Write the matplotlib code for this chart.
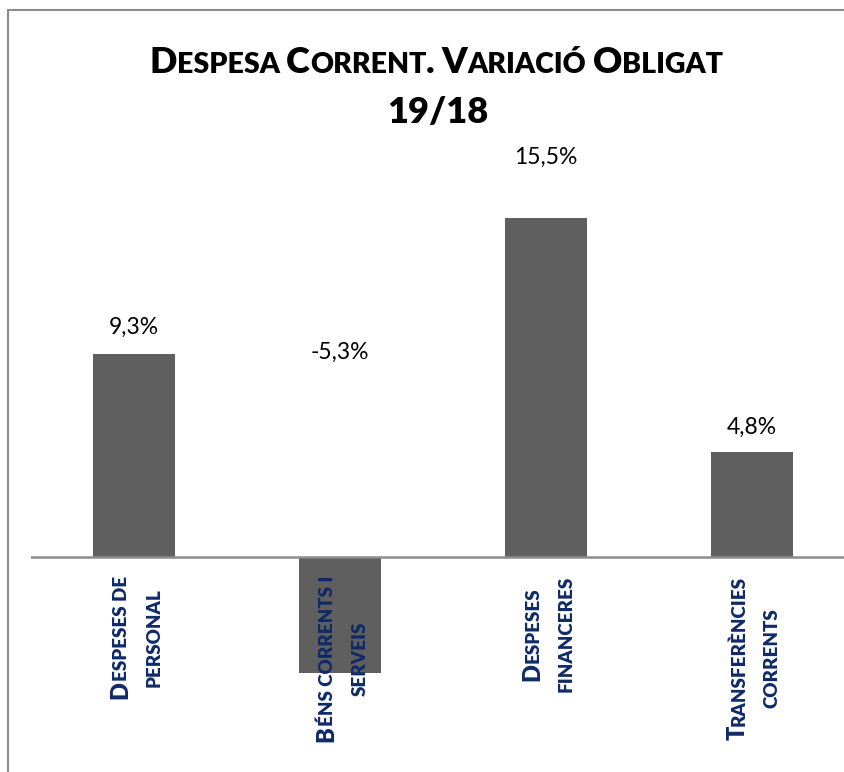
import matplotlib
matplotlib.use("Agg")
import matplotlib.pyplot as plt
from matplotlib.lines import Line2D

# Data
categories = [("Despeses de", "personal"),
              ("Béns corrents i", "serveis"),
              ("Despeses", "financeres"),
              ("Transferències", "corrents")]
values = [9.3, -5.3, 15.5, 4.8]
value_labels = ["9,3%", "-5,3%", "15,5%", "4,8%"]
label_pos = [10.5, 9.35, 18.3, 5.95]   # where Excel left the data labels
title_lines = ["Despesa Corrent. Variació Obligat", "19/18"]

FONT = "Lato"
NAVY = "#0f2a68"
BAR = "#5f5f5f"
GRID = "#8c8c8c"
HEAVY = 800

W, H = 845, 772
fig = plt.figure(figsize=(W / 100, H / 100), dpi=100)
renderer = fig.canvas.get_renderer()


def fpos(x, y):
    # image pixel -> figure fraction
    return x / W, 1 - y / H


def runs_of(s):
    # split text into small-caps runs: (text, is_big)
    out = []
    for ch in s:
        big = not (ch.islower() or ch == " ")
        if out and out[-1][1] == big:
            out[-1][0] += ch
        else:
            out.append([ch, big])
    return [(t.upper(), b) for t, b in out]


def width_of(s, size, weight):
    t = fig.text(0, 0, s, fontsize=size, fontweight=weight, family=FONT)
    w = t.get_window_extent(renderer).width
    t.remove()
    return w


def sc_width(s, big, small, weight=HEAVY):
    return sum(width_of(t, big if b else small, weight) for t, b in runs_of(s))


def draw_sc(s, x, y, big, small, color, rot=0, weight=HEAVY):
    # x,y: image pixels of the baseline start
    for t, b in runs_of(s):
        size = big if b else small
        fig.text(*fpos(x, y), t, fontsize=size, fontweight=weight, family=FONT,
                 color=color, ha="left", va="baseline", rotation=rot,
                 rotation_mode="anchor")
        w = width_of(t, size, weight)
        if rot == 90:
            y -= w
        else:
            x += w


# axes placed by pixel geometry
left, right = 31, 855
top, bottom, zero = 150, 760, 557
scale = 21.85
ax = fig.add_axes([left / W, 1 - bottom / H, (right - left) / W, (bottom - top) / H])
ax.set_xlim(-0.5, len(values) - 0.5)
ax.set_ylim(-(bottom - zero) / scale, (zero - top) / scale)
ax.axis("off")

xs = range(len(values))
ax.bar(xs, values, width=0.4, color=BAR, zorder=2)
ax.axhline(0, color=GRID, lw=1.8, zorder=3)

for i, (lab, yp) in enumerate(zip(value_labels, label_pos)):
    ax.text(i, yp, lab, ha="center", va="center", fontsize=16.5, family=FONT,
            color="black", clip_on=False)

# rotated category labels, small caps, two lines centred on each other
big_c, small_c = 17, 13.5
for i, (l1, l2) in enumerate(categories):
    cx = ax.transData.transform((i, 0))[0]
    w1 = sc_width(l1, big_c, small_c)
    w2 = sc_width(l2, big_c, small_c)
    mid = 576 + max(w1, w2) / 2
    draw_sc(l1, cx - 7, mid + w1 / 2, big_c, small_c, NAVY, rot=90)
    draw_sc(l2, cx + 26, mid + w2 / 2, big_c, small_c, NAVY, rot=90)

# title
big_t, small_t = 26, 20.5
tw = sc_width(title_lines[0], big_t, small_t)
draw_sc(title_lines[0], 436 - tw / 2, 73, big_t, small_t, "black")
fig.text(*fpos(438, 123), title_lines[1], fontsize=big_t, fontweight=HEAVY,
         family=FONT, ha="center", va="baseline")

# chart frame (only top and left edges visible)
fig.add_artist(Line2D([8 / W, 8 / W], [0, 1 - 10 / H], transform=fig.transFigure,
                      color=GRID, lw=1.5))
fig.add_artist(Line2D([8 / W, 1], [1 - 10 / H, 1 - 10 / H], transform=fig.transFigure,
                      color=GRID, lw=1.5))

fig.savefig("out.png", dpi=100)
